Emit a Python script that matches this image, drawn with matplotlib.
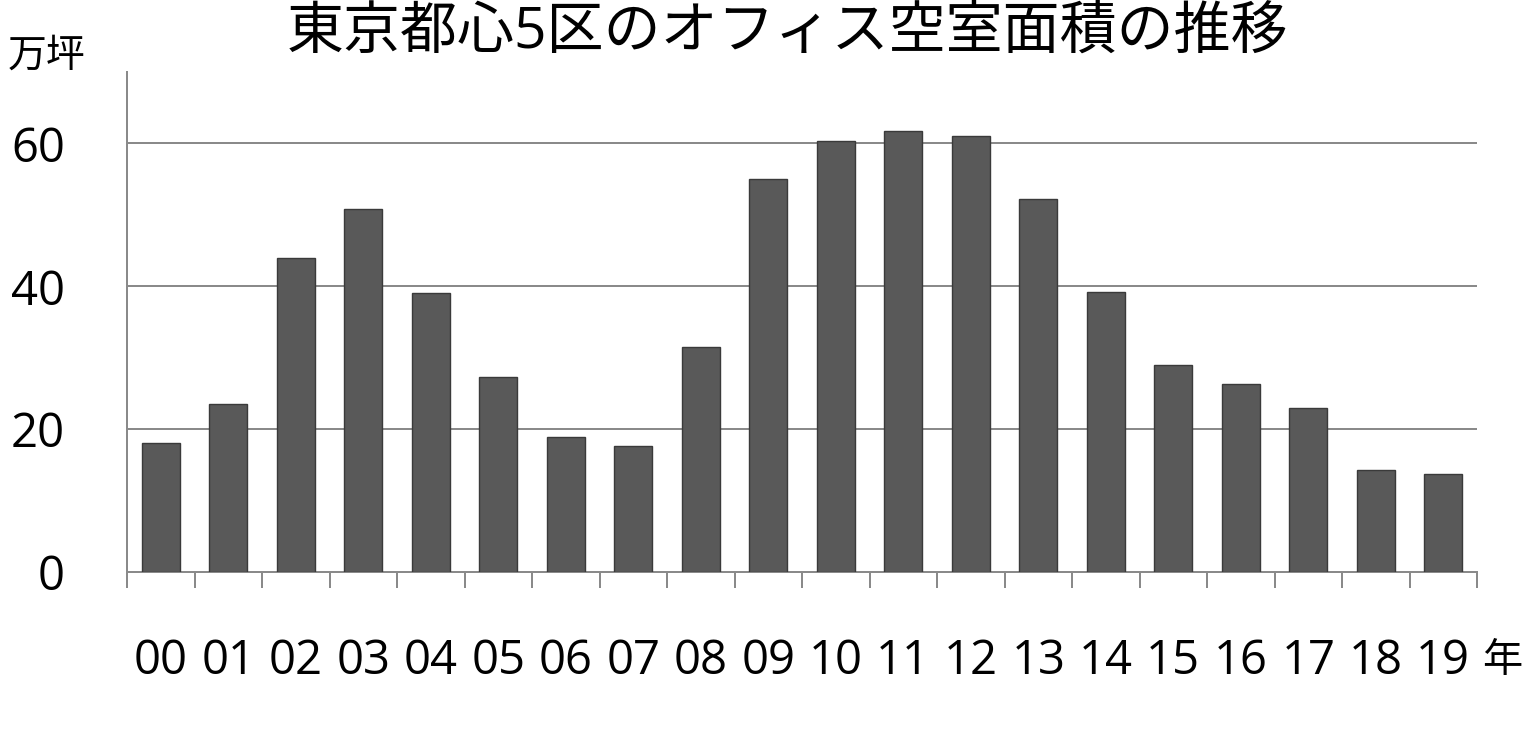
import matplotlib
matplotlib.use("Agg")
import matplotlib.pyplot as plt
import numpy as np

plt.rcParams["font.family"] = ["Open Sans", "Noto Sans CJK JP", "DejaVu Sans"]

# data (万坪)
years = ["00", "01", "02", "03", "04", "05", "06", "07", "08", "09",
         "10", "11", "12", "13", "14", "15", "16", "17", "18", "19"]
vacant = [18.0, 23.5, 43.9, 50.8, 39.0, 27.3, 18.9, 17.6, 31.5, 55.0,
          60.4, 61.8, 61.1, 52.2, 39.2, 29.0, 26.3, 22.9, 14.3, 13.7]
y_ticks = [0, 20, 40, 60]

W, H = 1527, 731
PX = 72 / 100  # points per pixel at dpi 100
fig = plt.figure(figsize=(W / 100, H / 100), dpi=100)
ax = fig.add_axes([127 / W, (H - 572) / H, 1350 / W, 500 / H])

x = np.arange(len(years))
ax.bar(x, vacant, width=0.56, color="#595959", edgecolor="#3a3a3a",
       linewidth=1.0, zorder=3)

ax.set_xlim(-0.5, len(years) - 0.5)
ax.set_ylim(0, 70)
ax.set_yticks(y_ticks)
ax.yaxis.grid(True, color="#8a8a8a", linewidth=2 * PX, zorder=0)

for side in ("top", "right"):
    ax.spines[side].set_visible(False)
for side in ("left", "bottom"):
    ax.spines[side].set_color("#8a8a8a")
    ax.spines[side].set_linewidth(2 * PX)

ax.tick_params(axis="y", length=0, pad=62 * PX, labelsize=34)
ax.set_xticks(x)
ax.set_xticklabels(years)
ax.tick_params(axis="x", which="major", length=0, pad=66 * PX, labelsize=34)
ax.set_xticks(np.arange(-0.5, len(years)), minor=True)
ax.tick_params(axis="x", which="minor", length=16 * PX, width=2 * PX,
               color="#8a8a8a")

fig.text(1502 / W, 1 - 662 / H, "年", fontsize=29, ha="center", va="center")
fig.text(47 / W, 1 - 57 / H, "万坪", fontsize=28, ha="center", va="center")
fig.text(787 / W, 1 - 33 / H, "東京都心5区のオフィス空室面積の推移",
         fontsize=41, ha="center", va="center")

plt.savefig("out.png", dpi=100)
plt.close()
